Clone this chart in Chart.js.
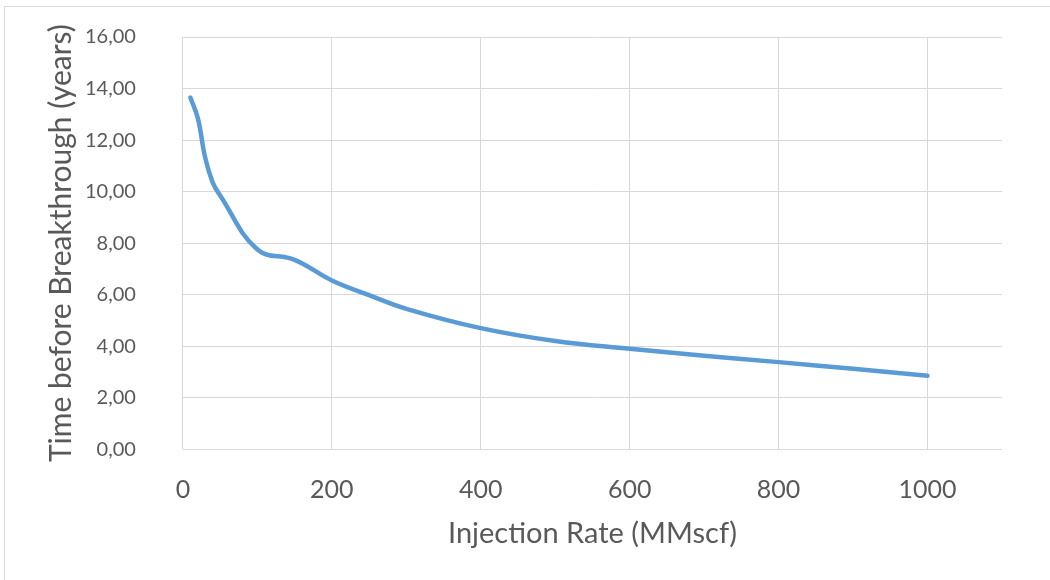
<!DOCTYPE html>
<html>
<head>
<meta charset="utf-8">
<script src="https://cdn.jsdelivr.net/npm/chart.js@4.4.1/dist/chart.umd.min.js"></script>
<style>
    html, body { margin: 0; padding: 0; background: #ffffff; }
    #wrap { position: relative; width: 1050px; height: 580px; }
    #frame { position: absolute; left: 4px; top: 6px; width: 1060px; height: 580px; border: 1px solid #d9d9d9; box-sizing: border-box; }
    #chart { position: absolute; left: 0; top: 0; }
</style>
</head>
<body>
<div id="wrap">
    <div id="frame"></div>
    <canvas id="chart" width="1050" height="580"></canvas>
</div>
<script>
// injection rate (MMscf) vs time before breakthrough (years)
const injectionRate = [10, 20, 30, 40, 50, 100, 150, 200, 250, 300, 400, 500, 600, 700, 800, 900, 1000];
const breakthroughYears = [13.65, 12.85, 11.3, 10.35, 9.85, 7.75, 7.35, 6.55, 5.98, 5.45, 4.7, 4.2, 3.9, 3.63, 3.38, 3.12, 2.85];

const xTicks = [0, 200, 400, 600, 800, 1000];

const textColor = "#595959";
const gridColor = "#d9d9d9";
const fontFamily = "Lato, 'Open Sans', sans-serif";

let points = injectionRate.map((x, i) => ({ x: x, y: breakthroughYears[i] }));

let ctx = document.getElementById("chart").getContext("2d");

new Chart(ctx, {
    type: "line",
    data: {
        datasets: [{
            label: "Time before Breakthrough",
            data: points,
            borderColor: "#5b9bd5",
            borderWidth: 4.5,
            borderCapStyle: "round",
            borderJoinStyle: "round",
            pointRadius: 0,
            tension: 0.4,
            fill: false
        }]
    },
    options: {
        responsive: false,
        animation: false,
        layout: {
            padding: { top: 37, right: 48, bottom: 29, left: 43 }
        },
        plugins: {
            legend: { display: false },
            tooltip: { enabled: false }
        },
        scales: {
            x: {
                type: "linear",
                min: 0,
                max: 1100,
                // only the round hundreds get a label and a grid line
                afterBuildTicks: (scale) => {
                    scale.ticks = xTicks.map(v => ({ value: v }));
                },
                // invisible tick marks push the labels away from the plot
                grid: { color: gridColor, lineWidth: 1, drawTicks: true, tickLength: 24, tickColor: "rgba(0,0,0,0)" },
                border: { display: false },
                ticks: {
                    color: textColor,
                    font: { family: fontFamily, size: 25 },
                    padding: 2,
                    callback: (value) => String(value)
                },
                title: {
                    display: true,
                    text: "Injection Rate (MMscf)",
                    color: textColor,
                    font: { family: fontFamily, size: 29 },
                    padding: { top: 9, bottom: 0 }
                }
            },
            y: {
                min: 0,
                max: 16,
                grid: { color: gridColor, lineWidth: 1, drawTicks: true, tickLength: 45, tickColor: "rgba(0,0,0,0)" },
                border: { display: false },
                ticks: {
                    stepSize: 2,
                    color: textColor,
                    font: { family: fontFamily, size: 20 },
                    padding: 2,
                    callback: (value) => value.toFixed(2).replace(".", ",")
                },
                title: {
                    display: true,
                    text: "Time before Breakthrough (years)",
                    color: textColor,
                    font: { family: fontFamily, size: 30 },
                    padding: { top: 0, bottom: 4 }
                }
            }
        }
    }
});
</script>
</body>
</html>
